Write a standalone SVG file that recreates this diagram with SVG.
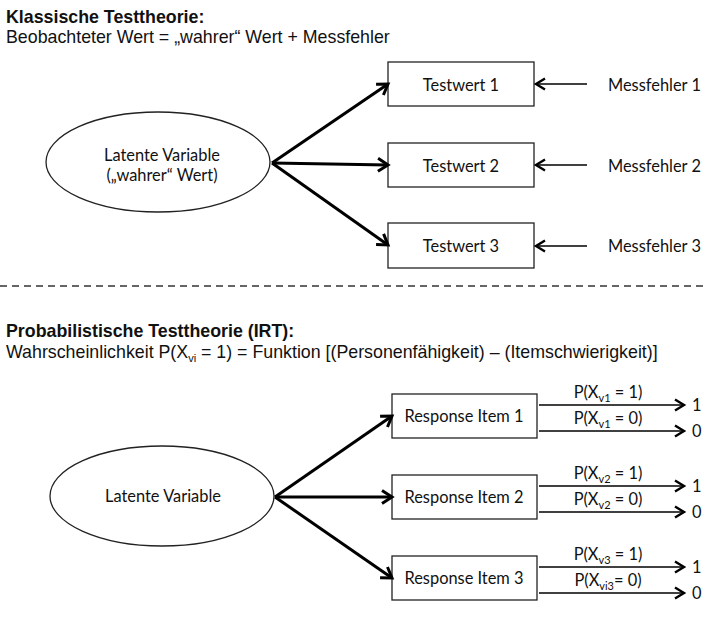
<svg xmlns="http://www.w3.org/2000/svg" width="708" height="643" viewBox="0 0 708 643">
<style>
.h{font-family:"Liberation Sans",Arial,sans-serif;font-size:17.8px;font-weight:bold;fill:#111}
.s{font-family:"Liberation Sans",Arial,sans-serif;font-size:17.8px;fill:#111}
.c{font-family:Lato,"Liberation Sans",sans-serif;font-size:16.4px;fill:#111}
.m{text-anchor:middle}
.box{fill:#fff;stroke:#222;stroke-width:1.3}
.thick{stroke:#000;stroke-width:3;fill:none}
.thin{stroke:#000;stroke-width:1.4;fill:none}
</style>
<defs>
<marker id="ah" markerUnits="userSpaceOnUse" orient="auto" overflow="visible" refX="0" refY="0" markerWidth="14" markerHeight="16">
<path d="M-10,-6.5 L0,0 L-10,6.5" fill="none" stroke="#000" stroke-width="3"/>
</marker>
<marker id="ah2" markerUnits="userSpaceOnUse" orient="auto" overflow="visible" refX="0" refY="0" markerWidth="14" markerHeight="16">
<path d="M-9,-5.5 L0,0 L-9,5.5" fill="none" stroke="#000" stroke-width="2.4"/>
</marker>
</defs>
<rect width="708" height="643" fill="#fff"/>

<g id="titles">
<text class="h" x="6" y="23">Klassische Testtheorie:</text>
<text class="s" x="6" y="43">Beobachteter Wert = „wahrer“ Wert + Messfehler</text>
<text class="h" x="6" y="337">Probabilistische Testtheorie (IRT):</text>
<text class="s" x="6" y="358">Wahrscheinlichkeit P(X<tspan font-size="11" dy="4">vi</tspan><tspan dy="-4"> = 1) = Funktion [(Personenfähigkeit) – (Itemschwierigkeit)]</tspan></text>
</g>

<line x1="0" y1="286" x2="708" y2="286" stroke="#333" stroke-width="1.3" stroke-dasharray="7 5"/>

<g id="latent1">
<ellipse cx="158" cy="162" rx="112" ry="50" fill="#fff" stroke="#222" stroke-width="1.3"/>
<text class="c m" x="162" y="161">Latente Variable</text>
<text class="c m" x="162" y="181">(„wahrer“ Wert)</text>
</g>
<g id="testwert1"><rect class="box" x="388" y="62" width="146" height="44"/><text class="c m" x="461" y="91">Testwert 1</text></g>
<g id="testwert2"><rect class="box" x="388" y="143" width="146" height="44"/><text class="c m" x="461" y="172">Testwert 2</text></g>
<g id="testwert3"><rect class="box" x="388" y="223" width="146" height="45"/><text class="c m" x="461" y="252">Testwert 3</text></g>
<g id="messfehler1"><text class="c" x="608" y="91">Messfehler 1</text></g>
<g id="messfehler2"><text class="c" x="608" y="172">Messfehler 2</text></g>
<g id="messfehler3"><text class="c" x="608" y="252">Messfehler 3</text></g>

<g id="latent2">
<ellipse cx="162" cy="496" rx="112" ry="50" fill="#fff" stroke="#222" stroke-width="1.3"/>
<text class="c m" x="163" y="502">Latente Variable</text>
</g>
<g id="item1"><rect class="box" x="392" y="394" width="145" height="44"/><text class="c m" x="464" y="422">Response Item 1</text></g>
<g id="item2"><rect class="box" x="392" y="475" width="145" height="44"/><text class="c m" x="464" y="503">Response Item 2</text></g>
<g id="item3"><rect class="box" x="392" y="556" width="145" height="44"/><text class="c m" x="464" y="584">Response Item 3</text></g>

<g id="outcomes">
<text class="c" x="692" y="411">1</text>
<text class="c" x="692" y="437">0</text>
<text class="c" x="692" y="492">1</text>
<text class="c" x="692" y="518">0</text>
<text class="c" x="692" y="573">1</text>
<text class="c" x="692" y="599">0</text>
</g>

<g id="connectors">
<line class="thick" x1="272" y1="163" x2="388" y2="84" marker-end="url(#ah)"/>
<line class="thick" x1="272" y1="163" x2="388" y2="165" marker-end="url(#ah)"/>
<line class="thick" x1="272" y1="163" x2="388" y2="245" marker-end="url(#ah)"/>
<line class="thin" x1="587" y1="84" x2="536" y2="84" marker-end="url(#ah2)"/>
<line class="thin" x1="587" y1="165" x2="536" y2="165" marker-end="url(#ah2)"/>
<line class="thin" x1="587" y1="246" x2="536" y2="246" marker-end="url(#ah2)"/>

<line class="thick" x1="275" y1="497" x2="392" y2="416" marker-end="url(#ah)"/>
<line class="thick" x1="275" y1="497" x2="392" y2="497" marker-end="url(#ah)"/>
<line class="thick" x1="275" y1="497" x2="392" y2="578" marker-end="url(#ah)"/>

<line class="thin" x1="539" y1="405" x2="684" y2="405" marker-end="url(#ah2)"/>
<line class="thin" x1="539" y1="431" x2="684" y2="431" marker-end="url(#ah2)"/>
<line class="thin" x1="539" y1="486" x2="684" y2="486" marker-end="url(#ah2)"/>
<line class="thin" x1="539" y1="512" x2="684" y2="512" marker-end="url(#ah2)"/>
<line class="thin" x1="539" y1="567" x2="684" y2="567" marker-end="url(#ah2)"/>
<line class="thin" x1="539" y1="593" x2="684" y2="593" marker-end="url(#ah2)"/>

<text class="c m" x="608" y="398">P(X<tspan font-size="11" dy="4">v1</tspan><tspan dy="-4"> = 1)</tspan></text>
<text class="c m" x="608" y="424">P(X<tspan font-size="11" dy="4">v1</tspan><tspan dy="-4"> = 0)</tspan></text>
<text class="c m" x="608" y="479">P(X<tspan font-size="11" dy="4">v2</tspan><tspan dy="-4"> = 1)</tspan></text>
<text class="c m" x="608" y="505">P(X<tspan font-size="11" dy="4">v2</tspan><tspan dy="-4"> = 0)</tspan></text>
<text class="c m" x="608" y="560">P(X<tspan font-size="11" dy="4">v3</tspan><tspan dy="-4"> = 1)</tspan></text>
<text class="c m" x="608" y="586">P(X<tspan font-size="11" dy="4">vi3</tspan><tspan dy="-4">= 0)</tspan></text>
</g>
</svg>
